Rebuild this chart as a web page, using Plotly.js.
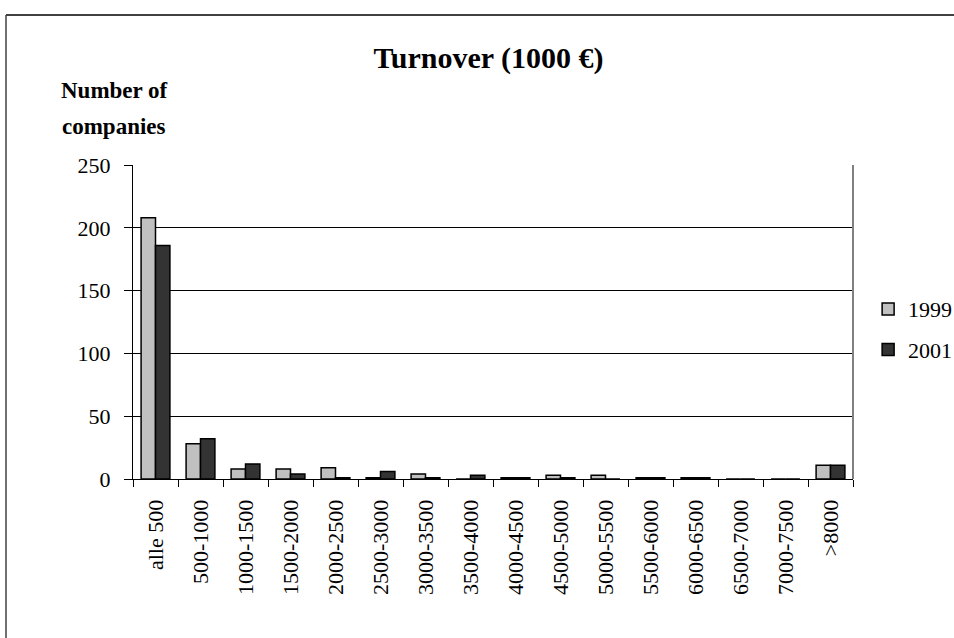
<!DOCTYPE html>
<html>
<head>
<meta charset="utf-8">
<script src="https://cdn.plot.ly/plotly-3.0.1.min.js"></script>
<style>
  html, body { margin: 0; padding: 0; background: #ffffff; }
  #chart { width: 954px; height: 638px; }
</style>
</head>
<body>
<div id="chart"></div>
<script>
// Turnover classes (1000 €)
const categories = ["alle 500", "500-1000", "1000-1500", "1500-2000", "2000-2500",
  "2500-3000", "3000-3500", "3500-4000", "4000-4500", "4500-5000", "5000-5500",
  "5500-6000", "6000-6500", "6500-7000", "7000-7500", ">8000"];

// Number of companies per class
const companies1999 = [208, 28, 8, 8, 9, 1, 4, 0, 1, 3, 3, 1, 1, 0, 0, 11];
const companies2001 = [186, 32, 12, 4, 1, 6, 1, 3, 1, 1, 0, 1, 1, 0, 0, 11];

const yTicks = [0, 50, 100, 150, 200, 250];

const serif = "'Times New Roman', 'Liberation Serif', serif";

const traces = [
  {
    type: "bar", name: "1999", x: categories, y: companies1999,
    marker: { color: "#c0c0c0", line: { color: "#000000", width: 1.5 } },
    legendgroup: "a"
  },
  {
    type: "bar", name: "2001", x: categories, y: companies2001,
    marker: { color: "#333333", line: { color: "#000000", width: 1.5 } },
    legendgroup: "b"
  }
];

const layout = {
  width: 954, height: 638,
  margin: { l: 133, r: 101, t: 165, b: 159, autoexpand: false },
  paper_bgcolor: "#ffffff", plot_bgcolor: "#ffffff",
  font: { family: serif, size: 22, color: "#000000" },
  barmode: "group", bargap: 0.36, bargroupgap: 0,
  title: {
    text: "<b>Turnover (1000 €)</b>",
    font: { family: serif, size: 30, color: "#000000" },
    x: 0.512, xanchor: "center", y: 0.91, yanchor: "middle"
  },
  xaxis: {
    type: "category", tickangle: -90, ticks: "outside", ticklen: 7,
    tickcolor: "#000000", tickwidth: 1, tickson: "boundaries",
    ticklabelstandoff: 11,
    showline: true, linecolor: "#000000", linewidth: 1,
    showgrid: false, zeroline: false,
    tickfont: { family: serif, size: 22, color: "#000000" }
  },
  yaxis: {
    range: [0, 250], tickvals: yTicks, ticktext: yTicks.map(String),
    ticks: "outside", ticklen: 8, tickcolor: "#000000",
    ticklabelstandoff: 9,
    showline: true, linecolor: "#000000", linewidth: 1,
    showgrid: true, gridcolor: "#000000", gridwidth: 1,
    zeroline: false,
    tickfont: { family: serif, size: 22, color: "#000000" }
  },
  showlegend: true,
  legend: {
    x: 1.021, xanchor: "left", y: 0.608, yanchor: "top",
    font: { family: serif, size: 22, color: "#000000" },
    bgcolor: "rgba(0,0,0,0)", traceorder: "grouped", tracegroupgap: 9,
    itemwidth: 30
  },
  annotations: [
    { text: "<b>Number of</b>", xref: "paper", yref: "paper", x: -0.026, y: 1.236,
      xanchor: "center", yanchor: "middle", showarrow: false,
      font: { family: serif, size: 23, color: "#000000" } },
    { text: "<b>companies</b>", xref: "paper", yref: "paper", x: -0.026, y: 1.124,
      xanchor: "center", yanchor: "middle", showarrow: false,
      font: { family: serif, size: 23, color: "#000000" } }
  ],
  shapes: [
    // plot area frame on the right side
    { type: "line", xref: "paper", yref: "paper", x0: 1, x1: 1, y0: 0, y1: 1,
      line: { color: "#808080", width: 2 } },
    // outer chart border, top and left edges
    { type: "line", xref: "paper", yref: "paper",
      x0: (6 - 133) / 720, x1: (960 - 133) / 720,
      y0: (479 - 15) / 314, y1: (479 - 15) / 314,
      line: { color: "#404040", width: 2 } },
    { type: "line", xref: "paper", yref: "paper",
      x0: (6 - 133) / 720, x1: (6 - 133) / 720,
      y0: (479 - 15) / 314, y1: (479 - 650) / 314,
      line: { color: "#404040", width: 1.5 } }
  ]
};

Plotly.newPlot("chart", traces, layout, { displayModeBar: false, staticPlot: true });
</script>
</body>
</html>
